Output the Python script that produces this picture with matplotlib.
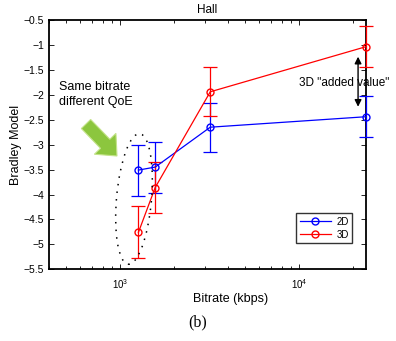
import numpy as np
import matplotlib
matplotlib.use("Agg")
import matplotlib.pyplot as plt
from matplotlib.patches import Ellipse, FancyArrow
from matplotlib.lines import Line2D
from matplotlib.ticker import LogLocator, NullFormatter

plt.rcParams['font.family'] = ['Liberation Sans', 'DejaVu Sans']

# data
bitrate = [1265, 1570, 3190, 23700]
mean_2d = [-3.51, -3.45, -2.65, -2.44]
err_2d = [0.51, 0.51, 0.49, 0.41]
mean_3d = [-4.76, -3.86, -1.94, -1.035]
err_3d = [0.52, 0.52, 0.49, 0.41]
series_labels = ['2D', '3D']
yticks = np.arange(-5.5, -0.49, 0.5)

fig = plt.figure(figsize=(3.96, 3.41), dpi=100)
ax = fig.add_axes([49 / 396, 1 - 269.3 / 341, 317 / 396, 249.3 / 341])

colors = ['#0000ff', '#ff0000']
for m, e, c in zip([mean_2d, mean_3d], [err_2d, err_3d], colors):
    ax.errorbar(bitrate, m, yerr=e, color=c, marker='o', mfc='none',
                ms=5, lw=0.9, elinewidth=0.9, capsize=5, capthick=0.9,
                clip_on=False, zorder=3)

ax.set_xscale('log')
ax.set_xlim(400, 23700)
ax.set_ylim(-5.5, -0.5)
ax.set_yticks(yticks)
ax.set_yticklabels([('%g' % v).replace('-', '\u2212') for v in yticks])
ax.xaxis.set_minor_locator(LogLocator(base=10, subs=np.arange(2, 10), numticks=20))
ax.xaxis.set_minor_formatter(NullFormatter())
ax.tick_params(which='both', direction='in', top=True, right=True, labelsize=7.5)
ax.tick_params(which='major', length=3.5, width=0.6)
ax.tick_params(which='minor', length=2, width=0.6)
ax.tick_params(axis='x', labelsize=7, pad=6)
for s in ax.spines.values():
    s.set_linewidth(1.3)

ax.set_title('Hall', fontsize=8.5, pad=5)
ax.set_ylabel('Bradley Model', fontsize=9, labelpad=1)
ax.set_xlabel('Bitrate (kbps)', fontsize=9, labelpad=1)
ax.xaxis.label.set_x(0.574)

handles = [Line2D([], [], color=c, marker='o', mfc='none', ms=5, lw=0.9) for c in colors]
leg = ax.legend(handles, series_labels, loc='lower left', bbox_to_anchor=(0.78, 0.105),
                fontsize=7, frameon=True, fancybox=False, handlelength=3.2,
                borderpad=0.35, labelspacing=0.3, handletextpad=0.6, borderaxespad=0)
leg.get_frame().set_edgecolor('black')
leg.get_frame().set_linewidth(1.0)

# annotations
ax.text(0.03, 0.70, 'Same bitrate\ndifferent QoE', transform=ax.transAxes,
        fontsize=9, va='center', ha='left', linespacing=1.3)

ell = Ellipse((1.34, (341 - 199) / 100), 0.35, 1.31, angle=-5,
              transform=fig.dpi_scale_trans, fill=False, ec='black',
              lw=1.1, ls=(0, (1, 4)), zorder=2)
fig.add_artist(ell)

arr = FancyArrow(0.86, (341 - 124) / 100, 0.31, -0.32, width=0.13,
                 head_width=0.3, head_length=0.17, length_includes_head=True,
                 transform=fig.dpi_scale_trans, fc='#8cc63e', ec='#c4e38a', lw=0.8)
fig.add_artist(arr)

ax.text(18000, -1.76, '3D "added value"', fontsize=8.5, ha='center', va='center',
        clip_on=False, zorder=1)
ax.annotate('', xy=(21400, -1.236), xytext=(21400, -2.24),
            arrowprops=dict(arrowstyle='<|-|>', color='black', lw=1.0,
                            mutation_scale=10, shrinkA=0, shrinkB=0), zorder=4)

fig.text(198 / 396, 1 - 322 / 341, '(b)', family=['Liberation Serif', 'DejaVu Serif'],
         fontsize=11.5, ha='center', va='center')

fig.savefig('out.png', dpi=100)
